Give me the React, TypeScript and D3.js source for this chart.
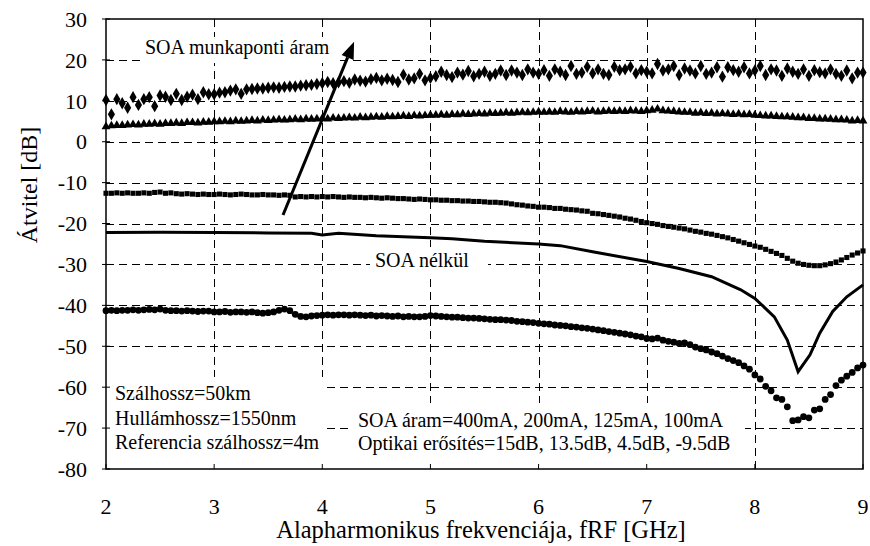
import React, { useEffect, useRef } from 'react';
import * as d3 from 'd3';

// measurement grid: 2..9 GHz in 50 MHz steps
const freqs = d3.range(141).map((i) => 2 + i * 0.05);

// SOA 400 mA (diamonds)
const soa400 = [
  10.2, 6.7, 10.4, 9.4, 8.3, 10.9, 9.0, 10.4, 10.9, 8.7, 11.3, 11.0, 10.2, 11.7, 10.2, 11.0, 11.5, 10.4, 12.1, 11.6,
  11.6, 12.0, 12.1, 12.5, 12.8, 11.7, 12.8,
  12.9, 13.0, 13.0, 13.2, 13.3, 13.2, 13.4, 13.5, 13.5, 13.7, 13.8, 13.9, 14.1, 14.3,
  14.6, 14.3, 14.5, 14.8, 14.4, 15.2, 14.9, 14.7, 15.3, 15.6, 15.0, 15.4, 15.1, 14.6, 16.4, 15.2, 15.5, 16.6, 15.0, 15.6,
  16.0, 17.1, 16.3, 15.8, 16.9, 16.4, 17.3, 16.0, 16.6,
  17.1, 16.1, 16.6, 17.4, 16.3, 17.4, 16.9, 16.3, 17.7, 16.9,
  16.6, 17.5, 16.1, 17.7, 17.1, 16.3, 18.5, 16.6, 16.9, 18.3,
  16.7, 17.7, 16.6, 16.3, 18.3, 17.5, 17.7, 18.3, 16.7, 17.5,
  17.1, 16.7, 19.0, 17.4, 17.7, 18.5, 16.3, 17.9, 17.4, 16.7,
  18.5, 16.6, 16.9, 18.2, 15.9, 18.2, 17.5, 17.1, 18.2, 16.7,
  17.4, 18.5, 16.3, 17.7, 17.4, 16.1, 17.9, 17.1, 16.6, 17.7,
  16.1, 17.5, 17.0, 16.7, 17.7, 16.6, 16.1, 17.4, 15.5, 16.9, 16.9,
];

// SOA 200 mA (triangles)
const soa200 = [
  3.7, 3.9, 4.0, 4.0, 4.1, 4.2, 4.1, 4.3, 4.3, 4.4, 4.3, 4.5, 4.5, 4.6, 4.5, 4.7, 4.7, 4.6, 4.8, 4.8, 4.9,
  4.9, 5.0, 4.9, 5.1, 5.0, 5.1, 5.2, 5.1, 5.3, 5.2, 5.3, 5.4, 5.3, 5.4, 5.5, 5.4, 5.6, 5.5, 5.6, 5.7,
  5.6, 5.8, 5.7, 5.8, 5.9, 5.8, 6.0, 5.9, 6.0, 6.1, 6.0, 6.2, 6.1, 6.2, 6.3, 6.2, 6.4, 6.3, 6.4, 6.5,
  6.5, 6.6, 6.5, 6.7, 6.6, 6.8, 6.7, 6.8, 6.9, 6.8, 7.0, 6.9, 7.0, 7.1, 7.0, 7.1, 7.2, 7.1, 7.2, 7.3,
  7.2, 7.3, 7.2, 7.4, 7.3, 7.2, 7.4, 7.3, 7.4, 7.5, 7.3, 7.4, 7.5, 7.4, 7.5, 7.4, 7.6, 7.5, 7.4, 7.6,
  7.7, 8.0, 7.6, 7.5, 7.4, 7.3, 7.2, 7.2, 7.0, 7.1, 6.9, 7.0, 6.8, 6.9, 6.8, 6.7, 6.8, 6.6, 6.7, 6.5,
  6.4, 6.3, 6.3, 6.2, 6.1, 6.1, 6.0, 5.9, 5.9, 5.7, 5.7, 5.6, 5.6, 5.5, 5.4, 5.4, 5.3, 5.1, 5.2, 5.1,
];

// SOA 125 mA (squares)
const soa125 = [
  -12.6, -12.6, -12.5, -12.6, -12.5, -12.6, -12.6, -12.5, -12.6, -12.4, -12.3, -12.6, -12.5, -12.7, -12.8, -12.7, -12.8, -12.9, -12.8, -12.9, -12.9,
  -12.8, -12.9, -13.0, -12.9, -12.8, -12.9, -13.0, -13.0, -12.9, -13.0, -13.0, -13.1, -13.0, -13.1, -13.5, -13.4, -13.5, -13.4, -13.5, -13.4,
  -13.5, -13.4, -13.5, -13.6, -13.5, -13.6, -13.6, -13.7, -13.6, -13.7, -13.8, -13.7, -13.8, -13.9, -13.9, -14.0, -14.1, -14.0, -14.1, -14.2,
  -14.2, -14.3, -14.3, -14.4, -14.4, -14.5, -14.5, -14.6, -14.6, -14.7, -14.8, -14.8, -14.9, -15.0, -15.2, -15.4, -15.5, -15.7, -15.8, -16.0,
  -16.0, -16.1, -16.3, -16.3, -16.5, -16.6, -16.7, -16.9, -17.0, -17.5, -17.6, -17.8, -18.0, -18.2, -18.4, -18.7, -18.9, -19.2, -19.5, -19.8,
  -20.0, -20.2, -20.5, -20.7, -20.9, -21.1, -21.3, -21.6, -21.9, -22.1, -22.4, -22.6, -22.9, -23.2, -23.5, -23.9, -24.3, -24.7, -25.1, -25.5,
  -25.8, -26.3, -26.8, -27.3, -27.8, -28.5, -29.2, -29.7, -30.0, -30.2, -30.3, -30.3, -30.1, -29.8, -29.4, -28.9, -28.3, -27.7, -27.2, -26.7,
];

// SOA 100 mA (circles)
const soa100 = [
  -41.3, -41.2, -41.3, -41.2, -41.2, -41.1, -41.2, -41.1, -41.0, -41.1, -40.9, -41.2, -41.3, -41.3, -41.4, -41.3, -41.4, -41.5, -41.4, -41.4, -41.6,
  -41.6, -41.5, -41.7, -41.6, -41.6, -41.7, -41.6, -41.8, -41.9, -41.8, -41.6, -41.2, -40.9, -41.3, -42.2, -42.7, -42.8, -42.6, -42.5, -42.4,
  -42.3, -42.4, -42.3, -42.3, -42.4, -42.3, -42.4, -42.5, -42.4, -42.6, -42.5, -42.6, -42.7, -42.6, -42.8, -42.7, -42.8, -42.8, -42.7, -42.5,
  -42.6, -42.7, -42.8, -42.9, -42.9, -43.0, -43.1, -43.1, -43.2, -43.3, -43.4, -43.5, -43.5, -43.6, -43.7, -43.9, -44.0, -44.1, -44.2, -44.4,
  -44.5, -44.6, -44.8, -44.9, -45.0, -45.2, -45.3, -45.5, -45.6, -45.8, -46.0, -46.2, -46.4, -46.6, -46.8, -47.0, -47.2, -47.5, -47.7, -48.1,
  -48.2, -48.0, -48.5, -48.8, -49.0, -49.3, -49.2, -49.6, -50.2, -50.6, -50.9, -51.4, -51.8, -52.4, -53.0, -53.5, -54.0, -54.8, -55.6, -57.0,
  -58.0, -59.8, -60.9, -62.6, -63.0, -64.8, -68.2, -68.0, -67.2, -67.5, -65.6, -65.3, -63.0, -61.8, -59.6, -58.3, -57.3, -56.4, -55.3, -54.6,
];

// without SOA (solid line)
const noSoaFreqs = [2, 2.5, 3, 3.5, 3.9, 4.0, 4.15, 4.5, 5, 5.2, 5.5, 6, 6.2, 6.5, 7, 7.3, 7.6, 7.87, 8, 8.18, 8.3, 8.4, 8.51, 8.6, 8.72, 8.85, 9];
const noSoa = [-22.2, -22.1, -22.2, -22.3, -22.4, -22.8, -22.4, -23.0, -23.5, -23.7, -24.3, -25.0, -25.4, -26.9, -29.3, -31.0, -33.0, -36.2, -38.3, -42.8, -48.5, -56.2, -52.1, -46.8, -41.5, -37.9, -35.0];

const xTicks = [2, 3, 4, 5, 6, 7, 8, 9];
const yTicks = [30, 20, 10, 0, -10, -20, -30, -40, -50, -60, -70, -80];

const infoLeft = ['Szálhossz=50km', 'Hullámhossz=1550nm', 'Referencia szálhossz=4m'];
const infoRight = ['SOA áram=400mA, 200mA, 125mA, 100mA', 'Optikai erősítés=15dB, 13.5dB, 4.5dB, -9.5dB'];

const FONT = 'Liberation Serif, Times New Roman, serif';

const App = () => {
  const svgRef = useRef(null);

  useEffect(() => {
    const width = 870;
    const height = 546;
    const margin = { top: 19, right: 7, bottom: 77, left: 106 };

    const svg = d3.select(svgRef.current);
    svg.selectAll('*').remove();

    const x = d3.scaleLinear().domain([2, 9]).range([margin.left, width - margin.right]);
    const y = d3.scaleLinear().domain([-80, 30]).range([height - margin.bottom, margin.top]);

    svg.append('rect').attr('width', width).attr('height', height).attr('fill', '#fff');

    // grid
    const grid = svg.append('g').attr('stroke', '#000').attr('stroke-width', 1)
      .attr('stroke-dasharray', '8,5').attr('shape-rendering', 'crispEdges');
    grid.selectAll('.hg').data(yTicks.filter((d) => d !== 30 && d !== -80)).join('line')
      .attr('x1', margin.left).attr('x2', width - margin.right)
      .attr('y1', (d) => Math.round(y(d)) + 0.5).attr('y2', (d) => Math.round(y(d)) + 0.5);
    grid.selectAll('.vg').data(xTicks.filter((d) => d !== 2 && d !== 9)).join('line')
      .attr('y1', margin.top).attr('y2', height - margin.bottom)
      .attr('x1', (d) => Math.round(x(d)) + 0.5).attr('x2', (d) => Math.round(x(d)) + 0.5);

    // white boxes behind the annotations
    const boxes = [
      [140, 37, 336, 63],
      [370, 247, 488, 274],
      [106, 377, 325, 469],
      [353, 403, 745, 469],
    ];
    svg.append('g').selectAll('rect').data(boxes).join('rect')
      .attr('x', (d) => d[0]).attr('y', (d) => d[1])
      .attr('width', (d) => d[2] - d[0]).attr('height', (d) => d[3] - d[1])
      .attr('fill', '#fff');

    // frame
    svg.append('rect')
      .attr('x', margin.left).attr('y', margin.top)
      .attr('width', width - margin.left - margin.right)
      .attr('height', height - margin.top - margin.bottom)
      .attr('fill', 'none').attr('stroke', '#000').attr('stroke-width', 1.5);

    // ticks
    svg.append('g').selectAll('line').data(yTicks).join('line')
      .attr('x1', margin.left - 4).attr('x2', margin.left + 4)
      .attr('y1', (d) => y(d)).attr('y2', (d) => y(d))
      .attr('stroke', '#000').attr('stroke-width', 1);
    svg.append('g').selectAll('line').data(xTicks).join('line')
      .attr('x1', (d) => x(d)).attr('x2', (d) => x(d))
      .attr('y1', height - margin.bottom).attr('y2', height - margin.bottom - 5)
      .attr('stroke', '#000').attr('stroke-width', 1);

    // tick labels
    svg.append('g').selectAll('text').data(yTicks).join('text')
      .attr('x', 87).attr('y', (d) => y(d)).attr('dy', '0.35em')
      .attr('text-anchor', 'end').style('font-family', FONT).style('font-size', '22px')
      .text((d) => d);
    svg.append('g').selectAll('text').data(xTicks).join('text')
      .attr('x', (d) => x(d)).attr('y', 514)
      .attr('text-anchor', 'middle').style('font-family', FONT).style('font-size', '22px')
      .text((d) => d);

    // axis titles
    svg.append('text')
      .attr('x', 481).attr('y', 538).attr('text-anchor', 'middle')
      .style('font-family', FONT).style('font-size', '24.5px')
      .text('Alapharmonikus frekvenciája, fRF [GHz]');
    svg.append('text')
      .attr('transform', 'translate(37,185) rotate(-90)').attr('text-anchor', 'middle')
      .style('font-family', FONT).style('font-size', '24px')
      .text('Átvitel [dB]');

    // solid line, no SOA
    const line = d3.line().x((d) => x(d[0])).y((d) => y(d[1]));
    svg.append('path')
      .datum(noSoaFreqs.map((f, i) => [f, noSoa[i]]))
      .attr('d', line)
      .attr('fill', 'none').attr('stroke', '#000').attr('stroke-width', 3);

    // marker series
    const series = [
      { values: soa400, symbol: d3.symbolDiamond, size: 44 },
      { values: soa200, symbol: d3.symbolTriangle, size: 34 },
      { values: soa125, symbol: d3.symbolSquare, size: 26 },
      { values: soa100, symbol: d3.symbolCircle, size: 36 },
    ];
    series.forEach((s) => {
      const sym = d3.symbol(s.symbol, s.size);
      svg.append('g').selectAll('path').data(s.values).join('path')
        .attr('transform', (d, i) => `translate(${x(freqs[i])},${y(d)})`)
        .attr('d', sym)
        .attr('fill', '#000');
    });

    // arrow
    const tail = [x(3.637), y(-17.9)];
    const tip = [x(4.294), y(24.45)];
    const ang = Math.atan2(tip[1] - tail[1], tip[0] - tail[0]);
    const headLen = 17;
    const headW = 6.5;
    const base = [tip[0] - headLen * Math.cos(ang), tip[1] - headLen * Math.sin(ang)];
    svg.append('line')
      .attr('x1', tail[0]).attr('y1', tail[1]).attr('x2', base[0]).attr('y2', base[1])
      .attr('stroke', '#000').attr('stroke-width', 3);
    const px = -Math.sin(ang);
    const py = Math.cos(ang);
    svg.append('path')
      .attr('d', `M${tip[0]},${tip[1]}L${base[0] + px * headW},${base[1] + py * headW}L${base[0] - px * headW},${base[1] - py * headW}Z`)
      .attr('fill', '#000');

    // annotations
    const txt = (tx, ty, s) => svg.append('text')
      .attr('x', tx).attr('y', ty).style('font-family', FONT).style('font-size', '20px').text(s);
    txt(145, 54, 'SOA munkaponti áram');
    txt(375, 267, 'SOA nélkül');
    infoLeft.forEach((s, i) => txt(115, 400 + i * 24.5, s));
    infoRight.forEach((s, i) => txt(358, 427 + i * 23, s));
  }, []);

  return (
    <div style={{ position: 'absolute', left: 0, top: 0 }}>
      <svg ref={svgRef} width={870} height={546}></svg>
    </div>
  );
};

export default App;
